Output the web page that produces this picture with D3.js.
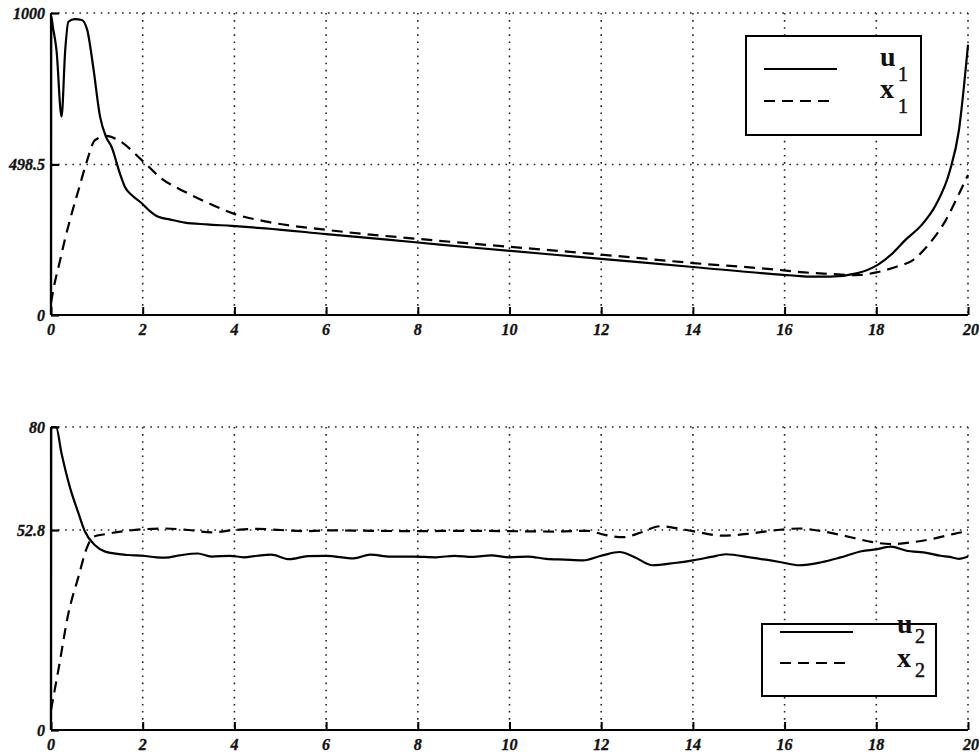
<!DOCTYPE html>
<html>
<head>
<meta charset="utf-8">
<script src="https://cdn.jsdelivr.net/npm/d3@7/dist/d3.min.js"></script>
<style>
    body { margin: 0; background: #fff; }
    svg { display: block; }
    .tick-label { font-family: "Liberation Serif", "Times New Roman", Times, serif; font-style: italic; font-weight: bold; font-size: 16px; fill: #111; stroke: #111; stroke-width: 0.35px; }
    .legend-text { font-family: "Liberation Serif", "Times New Roman", Times, serif; fill: #111; }
</style>
</head>
<body>
<div class="chart"></div>
<script>
// ---- data ----
const xTicks = [0, 2, 4, 6, 8, 10, 12, 14, 16, 18, 20]

// top panel
const topYTicks = [0, 498.5, 1000]
const tU1 = [0, 0.005, 0.04, 0.12, 0.23, 0.31, 0.38, 0.52, 0.67, 0.79, 0.92, 1.07, 1.2, 1.32, 1.5, 1.61, 1.76, 1.98, 2.15, 2.34, 2.6, 2.92, 3.4, 3.94, 4.67, 6, 8, 9.36, 12, 14, 16.34, 16.55, 16.99, 17.57, 18.03, 18.36, 18.63, 19, 19.3, 19.6, 19.8, 20]
const u1 = [0, 990, 955, 877, 657, 877, 971, 980, 977, 944, 822, 657, 590, 557, 470, 425, 397, 370, 345, 325, 316, 306, 300, 295, 287, 268, 240, 221, 186, 159, 129, 127, 127, 138, 166, 205, 248, 300, 365, 475, 610, 895]
const tX1 = [0, 0.05, 0.2, 0.3, 0.45, 0.6, 0.78, 0.96, 1.21, 1.47, 1.98, 2.41, 2.92, 3.5, 4.01, 4.67, 6, 8, 9.36, 12, 14, 15.9, 16.34, 17, 17.57, 18, 18.44, 18.8, 19.1, 19.5, 19.8, 20]
const x1 = [40, 83, 182, 248, 335, 414, 508, 579, 593, 579, 513, 452, 408, 366, 334, 310, 282, 252, 234, 200, 172, 149, 142, 136, 132, 141, 160, 182, 226, 310, 400, 464]

// bottom panel
const botYTicks = [0, 52.8, 80]
const tU2 = [0, 0.005, 0.11, 0.23, 0.41, 0.6, 0.74, 0.96, 1.18, 1.69, 2.0, 2.3, 2.5, 2.8, 3.2, 3.5, 3.9, 4.2, 4.5, 4.8, 5.2, 5.6, 6.0, 6.6, 6.96, 7.4, 7.9, 8.4, 8.8, 9.2, 9.6, 10, 10.4, 10.8, 11.2, 11.6, 12.0, 12.4, 12.72, 13.12, 13.6, 14.0, 14.4, 14.72, 15.28, 15.92, 16.32, 16.8, 17.2, 17.68, 18.0, 18.32, 18.64, 19.12, 19.4, 19.6, 19.8, 20]
const u2 = [0, 80, 80, 73, 64.2, 57.2, 52.4, 48.8, 47.1, 46.2, 46.0, 45.6, 45.5, 46.1, 46.6, 45.8, 46.0, 45.6, 46.0, 46.3, 45.1, 45.9, 46.0, 45.3, 46.3, 45.8, 45.8, 45.6, 46.0, 45.7, 46.1, 45.6, 45.8, 45.2, 45.0, 44.8, 46.0, 47.0, 45.7, 43.5, 44.1, 44.8, 45.7, 46.4, 45.5, 44.3, 43.5, 44.3, 45.5, 47.2, 47.7, 48.4, 47.4, 46.7, 46.0, 45.7, 45.2, 45.8]
const tX2 = [0, 0.16, 0.38, 0.6, 0.78, 0.92, 1.18, 1.6, 2.0, 2.5, 3.0, 3.5, 4.0, 4.5, 5.0, 5.5, 6.0, 7.0, 8.0, 9.0, 10.0, 11.0, 11.7, 12.08, 12.48, 12.88, 13.28, 13.68, 14.0, 14.64, 15.2, 15.84, 16.32, 16.8, 17.44, 17.92, 18.32, 18.8, 19.28, 19.7, 20]
const x2 = [5.3, 15.8, 30.8, 40.5, 48, 51, 51.7, 52.5, 53.0, 53.2, 52.8, 52.2, 52.8, 53.1, 52.8, 52.5, 52.7, 52.6, 52.5, 52.6, 52.5, 52.4, 52.6, 51.5, 50.9, 52.2, 53.8, 53.2, 52.5, 51.3, 51.8, 52.8, 53.2, 52.5, 50.9, 49.6, 49.1, 49.6, 50.6, 51.8, 52.5]

const width = 979, height = 752

const svg = d3.select('.chart').append('svg')
    .attr('width', width)
    .attr('height', height)

function drawPanel(cfg) {
    const x = d3.scaleLinear().domain([0, 20]).range([51, 968])
    const y = d3.scaleLinear().domain([0, cfg.yMax]).range([cfg.bottom, cfg.top])
    const g = svg.append('g')

    // dotted grid
    g.selectAll('.vgrid')
        .data(xTicks.slice(1)).enter()
        .append('line')
        .attr('x1', d => x(d)).attr('x2', d => x(d))
        .attr('y1', cfg.top).attr('y2', cfg.bottom)
        .attr('stroke', '#222').attr('stroke-width', 1.6)
        .attr('stroke-dasharray', '1.6,5.5')
    g.selectAll('.hgrid')
        .data(cfg.yTicks.slice(1)).enter()
        .append('line')
        .attr('x1', x(0)).attr('x2', x(20))
        .attr('y1', d => y(d)).attr('y2', d => y(d))
        .attr('stroke', '#222').attr('stroke-width', 1.6)
        .attr('stroke-dasharray', '1.6,5.5')

    // axes: inward ticks, labels drawn separately
    const xAxis = d3.axisBottom(x).tickValues(xTicks).tickSize(-8).tickFormat('')
    g.append('g')
        .attr('transform', 'translate(0,' + cfg.bottom + ')')
        .call(xAxis)
        .call(a => a.selectAll('line, path').attr('stroke', '#000').attr('stroke-width', 2))
        .call(a => a.select('.domain').attr('d', 'M' + x(0) + ',0H' + x(20)))
    const yAxis = d3.axisLeft(y).tickValues(cfg.yTicks).tickSize(-8).tickFormat('')
    g.append('g')
        .attr('transform', 'translate(' + x(0) + ',0)')
        .call(yAxis)
        .call(a => a.selectAll('line, path').attr('stroke', '#000').attr('stroke-width', 2.2))
        .call(a => a.select('.domain').attr('d', 'M0,' + cfg.bottom + 'V' + cfg.top))

    g.selectAll('.xl')
        .data(xTicks).enter()
        .append('text')
        .attr('class', 'tick-label')
        .attr('x', d => x(d) + (d === 20 ? 3 : 0))
        .attr('y', cfg.bottom + 20)
        .attr('text-anchor', 'middle')
        .text(d => d)
    g.selectAll('.yl')
        .data(cfg.yTicks).enter()
        .append('text')
        .attr('class', 'tick-label')
        .attr('x', 45)
        .attr('y', d => y(d))
        .attr('dy', '0.35em')
        .attr('text-anchor', 'end')
        .text(d => d)

    const line = d3.line()
        .x(d => x(d[0]))
        .y(d => y(d[1]))
        .curve(d3.curveMonotoneX)

    g.append('path')
        .datum(d3.zip(cfg.tx, cfg.xs))
        .attr('d', line)
        .attr('fill', 'none').attr('stroke', '#000').attr('stroke-width', 2.2)
        .attr('stroke-dasharray', '11,7')
    g.append('path')
        .datum(d3.zip(cfg.tu, cfg.us))
        .attr('d', line)
        .attr('fill', 'none').attr('stroke', '#000').attr('stroke-width', 2.2)

    // legend
    const lg = cfg.legend
    g.append('rect')
        .attr('x', lg.x).attr('y', lg.y)
        .attr('width', lg.w).attr('height', lg.h)
        .attr('fill', '#fff').attr('stroke', '#000').attr('stroke-width', 2)
    const items = [
        {name: 'u', dash: null, y: lg.y1, ty: lg.t1, sy: lg.s1, len: 73},
        {name: 'x', dash: '11,7', y: lg.y2, ty: lg.t2, sy: lg.s2, len: 67}
    ]
    items.forEach(it => {
        g.append('line')
            .attr('x1', lg.x + 18).attr('x2', lg.x + 18 + it.len)
            .attr('y1', it.y).attr('y2', it.y)
            .attr('stroke', '#000').attr('stroke-width', 2.2)
            .attr('stroke-dasharray', it.dash)
        g.append('text')
            .attr('class', 'legend-text')
            .attr('x', lg.tx).attr('y', it.ty)
            .attr('font-size', '28px').attr('font-weight', 'bold')
            .text(it.name)
        g.append('text')
            .attr('class', 'legend-text')
            .attr('x', lg.tx + 18).attr('y', it.sy)
            .attr('font-size', '20px')
            .attr('stroke', '#111').attr('stroke-width', 0.5)
            .text(cfg.sub)
    })
}

drawPanel({
    top: 13, bottom: 315, yMax: 1000, yTicks: topYTicks,
    tu: tU1, us: u1, tx: tX1, xs: x1, sub: '1',
    legend: {x: 746, y: 36, w: 175, h: 99, y1: 69, y2: 101, tx: 880, t1: 66, s1: 81, t2: 98, s2: 113}
})
drawPanel({
    top: 427, bottom: 730, yMax: 80, yTicks: botYTicks,
    tu: tU2, us: u2, tx: tX2, xs: x2, sub: '2',
    legend: {x: 762, y: 624, w: 174, h: 72, y1: 632, y2: 663, tx: 897, t1: 633, s1: 643, t2: 667, s2: 677}
})
</script>
</body>
</html>
